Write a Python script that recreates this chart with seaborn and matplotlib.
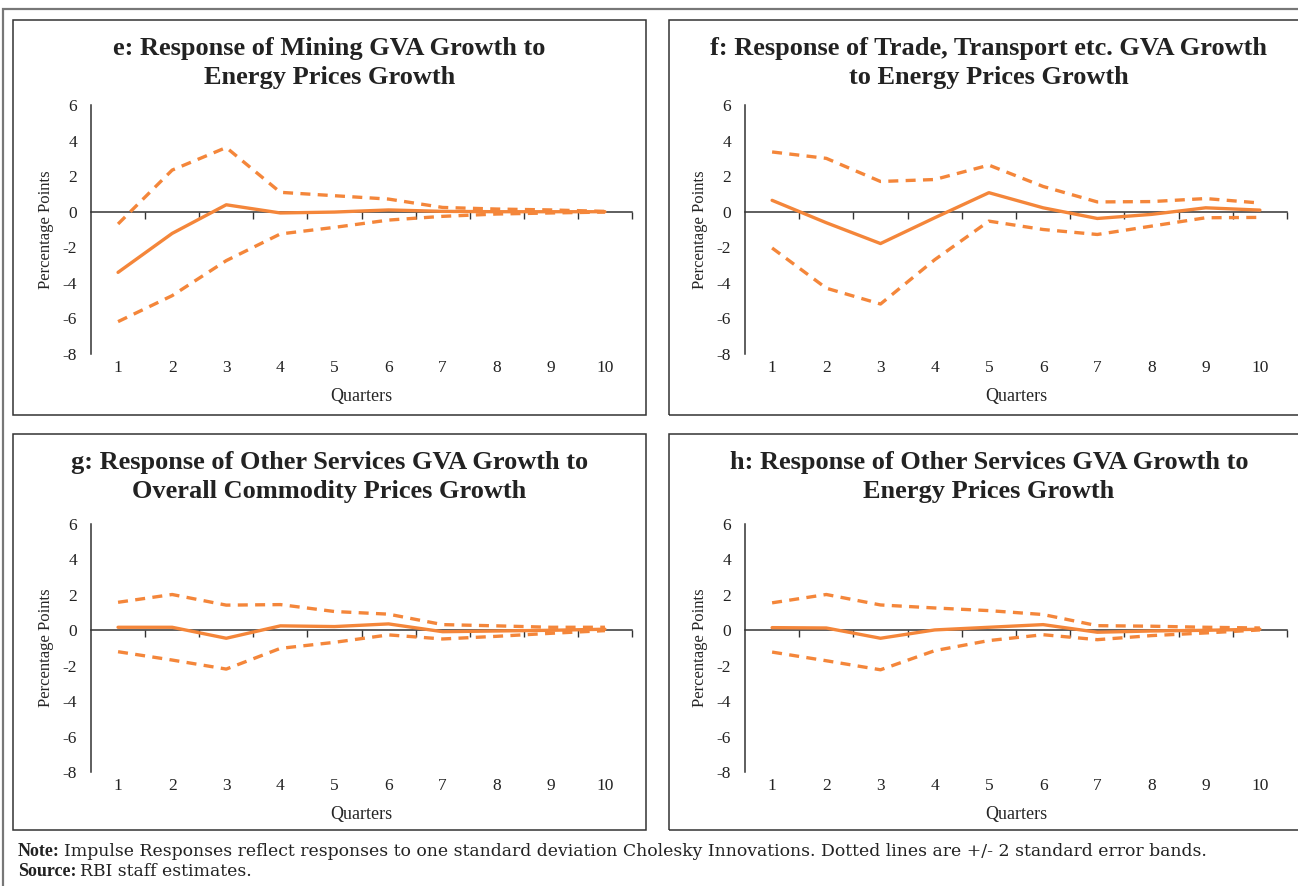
import numpy as np
import pandas as pd
import matplotlib
matplotlib.use("Agg")
import matplotlib.pyplot as plt
from matplotlib.patches import Rectangle
import seaborn as sns

quarters = list(range(1, 11))

# e: mining GVA vs energy prices
e_resp = [-3.41, -1.22, 0.39, -0.07, -0.02, 0.10, 0.02, 0.00, 0.00, 0.00]
e_upper = [-0.69, 2.34, 3.61, 1.09, 0.90, 0.71, 0.24, 0.15, 0.10, 0.02]
e_lower = [-6.18, -4.72, -2.75, -1.25, -0.88, -0.47, -0.26, -0.13, -0.07, -0.02]

# f: trade, transport etc vs energy prices
f_resp = [0.64, -0.62, -1.79, -0.34, 1.07, 0.22, -0.38, -0.15, 0.22, 0.09]
f_upper = [3.36, 3.00, 1.70, 1.81, 2.62, 1.42, 0.55, 0.57, 0.74, 0.49]
f_lower = [-2.04, -4.30, -5.19, -2.70, -0.53, -1.00, -1.28, -0.81, -0.34, -0.32]

# g: other services vs overall commodity prices
g_resp = [0.17, 0.17, -0.45, 0.25, 0.21, 0.36, -0.08, -0.04, 0.00, 0.06]
g_upper = [1.58, 2.02, 1.42, 1.45, 1.06, 0.91, 0.32, 0.25, 0.17, 0.17]
g_lower = [-1.21, -1.68, -2.19, -1.02, -0.68, -0.26, -0.49, -0.34, -0.17, -0.02]

# h: other services vs energy prices
h_resp = [0.15, 0.13, -0.45, 0.02, 0.17, 0.32, -0.11, -0.04, 0.00, 0.06]
h_upper = [1.55, 2.02, 1.43, 1.26, 1.11, 0.89, 0.26, 0.23, 0.17, 0.13]
h_lower = [-1.23, -1.72, -2.23, -1.15, -0.58, -0.25, -0.53, -0.30, -0.15, 0.02]

titles = ["e: Response of Mining GVA Growth to\nEnergy Prices Growth",
          "f: Response of Trade, Transport etc. GVA Growth\nto Energy Prices Growth",
          "g: Response of Other Services GVA Growth to\nOverall Commodity Prices Growth",
          "h: Response of Other Services GVA Growth to\nEnergy Prices Growth"]

note_txt = ("Impulse Responses reflect responses to one standard deviation Cholesky Innovations. "
            "Dotted lines are +/- 2 standard error bands.")
source_txt = "RBI staff estimates."

panels = [(e_resp, e_upper, e_lower), (f_resp, f_upper, f_lower),
          (g_resp, g_upper, g_lower), (h_resp, h_upper, h_lower)]

sns.set_style("white")
plt.rcParams['font.family'] = ['Liberation Serif', 'DejaVu Serif']
plt.rcParams['axes.unicode_minus'] = False

W, H = 1298, 886
fig = plt.figure(figsize=(W / 100, H / 100), dpi=100)
orange = "#F4863A"
dark = "#333333"

def px(x0, y0, w, h):
    # pixel box (top-left origin) -> figure fraction
    return [x0 / W, 1 - (y0 + h) / H, w / W, h / H]

# outer frame and panel boxes
fig.patches.append(Rectangle((3 / W, -0.1), 1.2, 1 - 9 / H + 0.1, transform=fig.transFigure,
                             fill=False, ec="#777777", lw=1.6))
boxes = [(13, 20, 633, 395), (669, 20, 640, 395), (13, 434, 633, 396), (669, 434, 640, 396)]
for bx, by, bw, bh in boxes:
    fig.patches.append(Rectangle((bx / W, 1 - (by + bh) / H), bw / W, bh / H,
                                 transform=fig.transFigure, fill=False, ec=dark, lw=1.1))

axes_px = [(91, 105, 541, 249), (745, 105, 542, 249), (91, 524, 541, 248), (745, 524, 542, 248)]

for i, (resp, up, lo) in enumerate(panels):
    ax = fig.add_axes(px(*axes_px[i]))
    df = pd.DataFrame({"Quarters": quarters, "resp": resp, "upper": up, "lower": lo})
    sns.lineplot(data=df, x="Quarters", y="upper", ax=ax, color=orange, lw=2.4,
                 linestyle=(0, (3.0, 2.2)))
    sns.lineplot(data=df, x="Quarters", y="lower", ax=ax, color=orange, lw=2.4,
                 linestyle=(0, (3.0, 2.2)))
    sns.lineplot(data=df, x="Quarters", y="resp", ax=ax, color=orange, lw=2.4)
    ax.set_xlim(0.5, 10.5)
    ax.set_ylim(-8, 6)
    ax.set_yticks(np.arange(-8, 7, 2))
    ax.set_xticks(quarters)
    ax.tick_params(axis="x", length=0, labelsize=12.5, pad=4, colors="#222222")
    ax.tick_params(axis="y", length=4, width=1, direction="out", labelsize=12.5, pad=6,
                   colors="#222222")
    for s in ["top", "right", "bottom"]:
        ax.spines[s].set_visible(False)
    ax.spines["left"].set_color(dark)
    ax.spines["left"].set_linewidth(1.1)
    # zero line carrying the category separator ticks (pointing down)
    sec = ax.secondary_xaxis(8 / 14)
    sec.set_xticks(np.arange(1.5, 11, 1))
    sec.set_xticklabels([])
    sec.tick_params(length=5, width=1, direction="in", colors=dark)
    sec.spines["bottom"].set_color(dark)
    sec.spines["top"].set_color(dark)
    sec.spines["bottom"].set_linewidth(1.1)
    sec.spines["top"].set_linewidth(1.1)
    ax.set_xlabel("Quarters", fontsize=13, labelpad=9)
    ax.set_ylabel("Percentage Points", fontsize=12, labelpad=6)
    bx, by, bw, bh = boxes[i]
    fig.text((bx + bw / 2) / W, 1 - (by + 43) / H, titles[i], ha="center", va="center",
             multialignment="center", fontsize=19, fontweight="bold", color="#222222",
             linespacing=1.35)

# footnote: bold lead word, then the text right after it
renderer = fig.canvas.get_renderer()
for lead, body, ypix in [("Note:", note_txt, 852), ("Source:", source_txt, 872)]:
    t = fig.text(18 / W, 1 - ypix / H, lead, fontsize=13, fontweight="bold", va="center",
                 family=['Liberation Serif'], color="#222222")
    x_end = t.get_window_extent(renderer).x1
    fig.text((x_end + 4) / W, 1 - ypix / H, body, fontsize=12.4, va="center",
             family=['DejaVu Serif'], color="#222222")

fig.savefig("out.png", dpi=100)
